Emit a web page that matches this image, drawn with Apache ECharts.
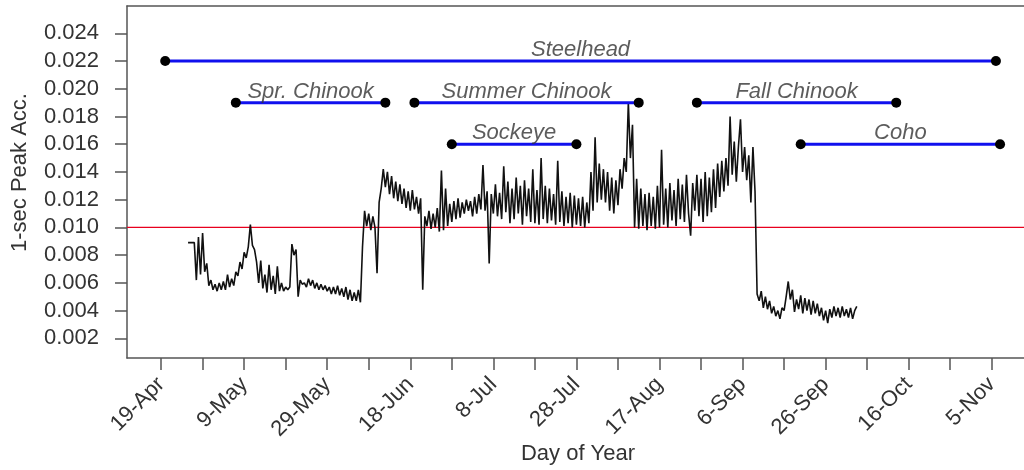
<!DOCTYPE html>
<html>
<head>
<meta charset="utf-8">
<script src="https://cdn.jsdelivr.net/npm/echarts@6/dist/echarts.min.js"></script>
<style>
  html, body { margin: 0; padding: 0; background: #fff; }
  #chart { width: 1024px; height: 470px; }
</style>
</head>
<body>
<div id="chart"></div>
<script>
// Day-of-year axis ticks (every 10 days) and labelled ticks (every 20 days)
const tickDays = [109, 119, 129, 139, 149, 159, 169, 179, 189, 199, 209, 219, 229, 239, 249, 259, 269, 279, 289, 299, 309];
const labelDays = [109, 129, 149, 169, 189, 209, 229, 249, 269, 289, 309];
const tickLabels = ['19-Apr', '9-May', '29-May', '18-Jun', '8-Jul', '28-Jul', '17-Aug', '6-Sep', '26-Sep', '16-Oct', '5-Nov'];
const yTicks = [0.002, 0.004, 0.006, 0.008, 0.010, 0.012, 0.014, 0.016, 0.018, 0.020, 0.022, 0.024];

// Visible day range of the plot
const dayMin = 100.8;
const dayMax = 316.76;

// Threshold level
const threshold = 0.010;

// Fish run windows (day of year) and the level each bar is drawn at
const species = ['Steelhead', 'Spr. Chinook', 'Summer Chinook', 'Sockeye', 'Fall Chinook', 'Coho'];
const runStart = [110, 127, 170, 179, 238, 263];
const runEnd = [310, 163, 224, 209, 286, 311];
const runLevel = [0.022, 0.019, 0.019, 0.016, 0.019, 0.016];

// 1-sec peak acceleration, sampled every half day starting at day 115.5
const accStartDay = 115.5;
const accStep = 0.5;
const peakAcc = [
  0.0089, 0.0089, 0.0089, 0.0089, 0.0062, 0.0093, 0.0066, 0.0096, 0.0068, 0.0074,
  0.0058, 0.0062, 0.0055, 0.0059, 0.0054, 0.0060, 0.0055, 0.0061, 0.0055, 0.0066,
  0.0057, 0.0063, 0.0058, 0.0068, 0.0065, 0.0075, 0.0070, 0.0082, 0.0078, 0.0086,
  0.0102, 0.0087, 0.0084, 0.0075, 0.0060, 0.0076, 0.0056, 0.0066, 0.0053, 0.0073,
  0.0055, 0.0065, 0.0052, 0.0072, 0.0054, 0.0060, 0.0054, 0.0057, 0.0055, 0.0057,
  0.0088, 0.0080, 0.0084, 0.0050, 0.0062, 0.0059, 0.0060, 0.0057, 0.0063, 0.0058,
  0.0062, 0.0056, 0.0060, 0.0055, 0.0059, 0.0055, 0.0058, 0.0054, 0.0057, 0.0052,
  0.0057, 0.0052, 0.0058, 0.0051, 0.0056, 0.0050, 0.0057, 0.0048, 0.0055, 0.0047,
  0.0053, 0.0047, 0.0055, 0.0046, 0.0086, 0.0112, 0.0101, 0.0110, 0.0098, 0.0108,
  0.0100, 0.0067, 0.0118, 0.0128, 0.0142, 0.0129, 0.0140, 0.0124, 0.0137, 0.0121,
  0.0133, 0.0119, 0.0131, 0.0117, 0.0128, 0.0114, 0.0126, 0.0112, 0.0127, 0.0113,
  0.0122, 0.0110, 0.0121, 0.0055, 0.0108, 0.0101, 0.0112, 0.0099, 0.0110, 0.0100,
  0.0114, 0.0097, 0.0141, 0.0098, 0.0128, 0.0101, 0.0117, 0.0104, 0.0119, 0.0106,
  0.0121, 0.0107, 0.0118, 0.0110, 0.0120, 0.0112, 0.0119, 0.0108, 0.0122, 0.0110,
  0.0124, 0.0113, 0.0145, 0.0112, 0.0126, 0.0074, 0.0124, 0.0110, 0.0131, 0.0108,
  0.0125, 0.0106, 0.0144, 0.0111, 0.0133, 0.0103, 0.0128, 0.0106, 0.0136, 0.0110,
  0.0130, 0.0102, 0.0134, 0.0108, 0.0128, 0.0104, 0.0142, 0.0103, 0.0127, 0.0102,
  0.0150, 0.0106, 0.0130, 0.0103, 0.0128, 0.0105, 0.0124, 0.0102, 0.0148, 0.0104,
  0.0126, 0.0101, 0.0122, 0.0103, 0.0125, 0.0100, 0.0123, 0.0102, 0.0121, 0.0101,
  0.0122, 0.0100, 0.0118, 0.0103, 0.0140, 0.0112, 0.0165, 0.0118, 0.0146, 0.0120,
  0.0142, 0.0118, 0.0140, 0.0112, 0.0136, 0.0110, 0.0134, 0.0116, 0.0142, 0.0128,
  0.0150, 0.0140, 0.0190, 0.0150, 0.0174, 0.0100, 0.0135, 0.0099, 0.0128, 0.0101,
  0.0124, 0.0098, 0.0125, 0.0101, 0.0122, 0.0099, 0.0130, 0.0100, 0.0156, 0.0102,
  0.0128, 0.0100, 0.0132, 0.0105, 0.0127, 0.0101, 0.0135, 0.0106, 0.0131, 0.0104,
  0.0138, 0.0110, 0.0094, 0.0132, 0.0112, 0.0138, 0.0108, 0.0135, 0.0104, 0.0140,
  0.0108, 0.0136, 0.0111, 0.0142, 0.0114, 0.0146, 0.0122, 0.0148, 0.0126, 0.0150,
  0.0130, 0.0180, 0.0138, 0.0162, 0.0133, 0.0158, 0.0178, 0.0140, 0.0158, 0.0134,
  0.0152, 0.0118, 0.0158, 0.0126, 0.0052, 0.0047, 0.0054, 0.0042, 0.0050, 0.0041,
  0.0047, 0.0038, 0.0043, 0.0036, 0.0040, 0.0034, 0.0042, 0.0040, 0.0050, 0.0061,
  0.0048, 0.0055, 0.0039, 0.0048, 0.0041, 0.0051, 0.0038, 0.0049, 0.0040, 0.0048,
  0.0037, 0.0047, 0.0038, 0.0045, 0.0036, 0.0042, 0.0033, 0.0040, 0.0031, 0.0041,
  0.0035, 0.0043, 0.0036, 0.0042, 0.0035, 0.0043, 0.0036, 0.0041, 0.0035, 0.0042,
  0.0034, 0.0040, 0.0043
];

const FONT = "'Liberation Sans', Arial, sans-serif";
const TEXT = '#333333';
const AXIS = '#555555';

const accData = peakAcc.map((v, i) => [accStartDay + i * accStep, v]);

const runSeries = species.map((name, i) => ({
  name: name,
  type: 'line',
  data: [[runStart[i], runLevel[i]], [runEnd[i], runLevel[i]]],
  symbol: 'circle',
  symbolSize: 10,
  showSymbol: true,
  itemStyle: { color: '#000000' },
  lineStyle: { color: '#1010ee', width: 3 },
  z: 5,
  silent: true
}));

const runLabels = {
  type: 'scatter',
  symbolSize: 0,
  data: species.map((name, i) => ({ name: name, value: [(runStart[i] + runEnd[i]) / 2, runLevel[i]] })),
  label: {
    show: true,
    position: 'top',
    distance: 0,
    formatter: p => p.name,
    fontFamily: FONT,
    fontStyle: 'italic',
    fontSize: 22,
    color: TEXT
  },
  z: 6,
  silent: true
};

const chart = echarts.init(document.getElementById('chart'), null, { renderer: 'canvas' });

const frameLine = { show: true, lineStyle: { color: AXIS, width: 1.5 } };

chart.setOption({
  animation: false,
  backgroundColor: '#ffffff',
  grid: {
    left: 127,
    top: 6,
    right: 0,
    bottom: 112,
    show: false
  },
  xAxis: [
    {
      type: 'value',
      min: dayMin,
      max: dayMax,
      axisLine: frameLine,
      splitLine: { show: false },
      axisTick: {
        show: true,
        customValues: tickDays,
        length: 12,
        lineStyle: { color: AXIS, width: 1.5 }
      },
      axisLabel: {
        customValues: labelDays,
        formatter: v => tickLabels[labelDays.indexOf(Math.round(v))] || '',
        rotate: 45,
        margin: 23,
        fontFamily: FONT,
        fontSize: 22,
        color: TEXT
      }
    },
    {
      // top edge of the plot frame
      type: 'value',
      position: 'top',
      min: dayMin,
      max: dayMax,
      axisLine: frameLine,
      axisTick: { show: false },
      axisLabel: { show: false },
      splitLine: { show: false }
    }
  ],
  yAxis: {
    type: 'value',
    min: 0.00058,
    max: 0.02597,
    axisLine: frameLine,
    splitLine: { show: false },
    axisTick: {
      show: true,
      customValues: yTicks,
      length: 12,
      lineStyle: { color: AXIS, width: 1.5 }
    },
    axisLabel: {
      customValues: yTicks,
      formatter: v => v.toFixed(3),
      margin: 28,
      fontFamily: FONT,
      fontSize: 22,
      color: TEXT
    }
  },
  graphic: [
    {
      type: 'text',
      x: 578,
      y: 454,
      style: {
        text: 'Day of Year',
        font: '22px ' + FONT,
        fill: TEXT,
        align: 'center',
        verticalAlign: 'middle'
      }
    },
    {
      type: 'text',
      x: 19.5,
      y: 172.5,
      rotation: Math.PI / 2,
      style: {
        text: '1-sec Peak Acc.',
        font: '22px ' + FONT,
        fill: TEXT,
        align: 'center',
        verticalAlign: 'middle'
      }
    }
  ],
  series: [
    {
      name: 'threshold',
      type: 'line',
      data: [[dayMin, threshold], [dayMax, threshold]],
      symbol: 'none',
      lineStyle: { color: '#e8001e', width: 1.3 },
      z: 2,
      silent: true
    },
    {
      name: 'peak',
      type: 'line',
      data: accData,
      showSymbol: false,
      symbol: 'none',
      lineStyle: { color: '#111111', width: 1.6 },
      z: 3,
      silent: true
    },
    ...runSeries,
    runLabels
  ]
});
</script>
</body>
</html>
